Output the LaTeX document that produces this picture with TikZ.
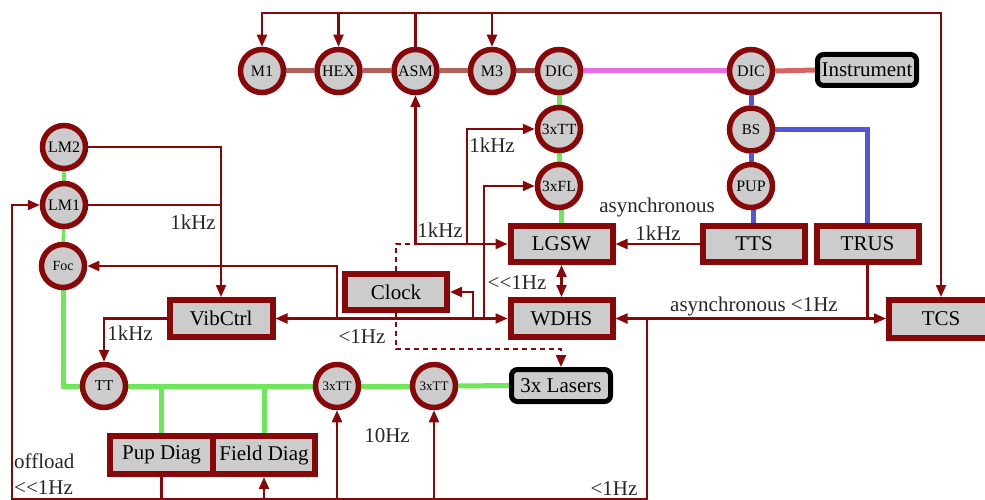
\documentclass[tikz,border=0pt]{standalone}
\usepackage{fontspec}
\setmainfont{Liberation Serif}
\usetikzlibrary{arrows.meta,backgrounds}
\definecolor{dred}{RGB}{135,8,8}
\definecolor{boxgray}{RGB}{204,204,204}
\definecolor{lgreen}{RGB}{110,232,90}
\definecolor{lmag}{RGB}{232,110,232}
\definecolor{lblue}{RGB}{85,85,220}
\definecolor{lbrown}{RGB}{178,98,92}
\definecolor{lbrownd}{RGB}{160,80,72}
\definecolor{lred}{RGB}{215,100,100}
\tikzset{
  circ/.style={circle, draw=dred, fill=boxgray, line width=5.5pt, minimum size=43pt, inner sep=0pt, font=\fontsize{16}{16}\selectfont},
  rbox/.style={rectangle, draw=dred, fill=boxgray, line width=6pt, minimum width=102pt, minimum height=36pt, inner sep=0pt, font=\fontsize{21}{21}\selectfont},
  kbox/.style={rectangle, rounded corners=6pt, draw=black, fill=boxgray, line width=5pt, minimum width=99pt, minimum height=31pt, inner sep=0pt, font=\fontsize{21}{21}\selectfont},
  conn/.style={draw=dred, line width=2.2pt},
  dconn/.style={draw=dred, line width=2.2pt, dash pattern=on 5pt off 4pt},
  arr/.style={-{Triangle[length=12pt,width=10pt]}},
  darr/.style={{Triangle[length=12pt,width=10pt]}-{Triangle[length=12pt,width=10pt]}},
  lbl/.style={font=\fontsize{21}{21}\selectfont, inner sep=0pt, text=black!85},
  lnk/.style={line width=5pt},
}
\begin{document}
\begin{tikzpicture}[x=1pt,y=-1pt]
\useasboundingbox (0,0) rectangle (985,500);
\clip (0,0) rectangle (985,500);
% circles
\node[circ] (M1) at (262,71) {M1};
\node[circ] (HEX) at (338.5,71) {HEX};
\node[circ] (ASM) at (415.5,71) {ASM};
\node[circ] (M3) at (492,71) {M3};
\node[circ] (DIC1) at (559,71) {DIC};
\node[circ] (DIC2) at (751,71) {DIC};
\node[kbox] (Instr) at (867,70) {Instrument};
\node[circ, font=\fontsize{15.5}{15.5}\selectfont] (uTT) at (559,129) {3xTT};
\node[circ, font=\fontsize{15.5}{15.5}\selectfont] (uFL) at (559,186) {3xFL};
\node[circ, font=\fontsize{15}{15}\selectfont] (BS) at (751,129.5) {BS};
\node[circ] (PUP) at (751,186) {PUP};
\node[circ] (LM2) at (64,147) {LM2};
\node[circ] (LM1) at (64,205) {LM1};
\node[circ, font=\fontsize{14}{14}\selectfont] (Foc) at (63,266) {Foc};
\node[circ, font=\fontsize{15}{15}\selectfont] (TT) at (104,386) {TT};
\node[circ, font=\fontsize{13}{13}\selectfont] (lTTa) at (337,386) {3xTT};
\node[circ, font=\fontsize{13}{13}\selectfont] (lTTb) at (434,386) {3xTT};
\node[kbox, minimum height=32pt] (Lasers) at (561,385.5) {3x Lasers};
% boxes
\node[rbox] (LGSW) at (561.5,244) {LGSW};
\node[rbox] (TTS) at (754,244) {TTS};
\node[rbox] (TRUS) at (867.5,244) {TRUS};
\node[rbox, minimum height=37pt] (WDHS) at (561.5,318.5) {WDHS};
\node[rbox, minimum width=104pt, minimum height=38pt] (TCS) at (941,319) {TCS};
\node[rbox] (Clock) at (396,292) {Clock};
\node[rbox, minimum width=103pt, minimum height=37pt] (Vib) at (221,318.5) {VibCtrl};
\node[rbox, minimum width=103pt, minimum height=38pt] (Pup) at (161.5,455) {Pup Diag};
\node[rbox, minimum width=102pt, minimum height=38pt] (Field) at (264,455) {Field Diag};
% coloured links
\begin{scope}[on background layer]
\draw[lnk, lbrown] (M1.east) -- (HEX.west);
\draw[lnk, lbrown] (HEX.east) -- (ASM.west);
\draw[lnk, lbrown] (ASM.east) -- (M3.west);
\draw[lnk, lbrownd] (M3.east) -- (DIC1.west);
\draw[lnk, lmag] (DIC1.east) -- (DIC2.west);
\draw[lnk, lred] (DIC2.east) -- (Instr.west);
\draw[lnk, lgreen] (DIC1.south) -- (uTT.north);
\draw[lnk, lgreen] (uTT.south) -- (uFL.north);
\draw[lnk, lgreen] (561,186) -- (561,244);
\draw[lnk, lblue] (DIC2.south) -- (BS.north);
\draw[lnk, lblue] (BS.south) -- (PUP.north);
\draw[lnk, lblue] (753,186) -- (753,244);
\draw[lnk, lblue] (BS.east) -| (TRUS.north);
\draw[lnk, lgreen, line width=3.5pt] (LM2.south) -- (LM1.north);
\draw[lnk, lgreen, line width=3.5pt] (LM1.south) -- (Foc.north);
\draw[lnk, lgreen] (Foc.south) |- (TT.west);
\draw[lnk, lgreen] (TT.east) -- (lTTa.west);
\draw[lnk, lgreen] (lTTa.east) -- (lTTb.west);
\draw[lnk, lgreen] (lTTb.east) -- (Lasers.west);
\draw[lnk, lgreen] (Pup.north |- TT) -- (Pup.north);
\draw[lnk, lgreen] (Field.north |- TT) -- (Field.north);
\end{scope}
% coordinates
\coordinate (busL) at (262,13);
\coordinate (busR) at (941,13);
\coordinate (cj) at (415.5,244);
\coordinate (tj) at (467,244);
\coordinate (fj) at (484,318.5);
\coordinate (kj) at (473,318.5);
\coordinate (oj) at (337,318.5);
\coordinate (wj) at (647,318.5);
\coordinate (bR) at (647,499.5);
\coordinate (bL) at (12,499.5);
\coordinate (dk) at (396,349);
% dark red connectors
\draw[conn, darr] (M1.north) -- (busL) -- (busR) -- (TCS.north);
\draw[conn, arr] (HEX.north |- busL) -- (HEX.north);
\draw[conn, arr] (M3.north |- busL) -- (M3.north);
\draw[conn] (ASM.north) -- (ASM.north |- busL);
\draw[conn, arr] (cj) -- (ASM.south);
\draw[conn, arr] (cj) -- (LGSW.west);
\draw[conn, arr] (tj) |- (uTT.west);
\draw[dconn] (Clock.north) |- (cj);
\draw[dconn, arr] (Clock.south) -- (dk) -| (Lasers.north);
\draw[conn, darr] (Vib.east) -- (WDHS.west);
\draw[conn, arr] (oj) |- (Foc.east);
\draw[conn, arr] (kj) |- (Clock.east);
\draw[conn, arr] (fj) |- (uFL.west);
\draw[conn, arr] (Vib.west) -| (TT.north);
\draw[conn, arr] (LM2.east) -| (Vib.north);
\draw[conn] (LM1.east) -- (LM1 -| Vib.north);
\draw[conn, darr] (LGSW.south) -- (WDHS.north);
\draw[conn, arr] (TTS.west) -- (LGSW.east);
\draw[conn, darr] (WDHS.east) -- (WDHS.east -| TCS.west);
\draw[conn] (TRUS.south) -- (TRUS.south |- wj);
\draw[conn, arr] (wj) -- (bR) -- (bL) |- (LM1.west);
\draw[conn] (Pup.south) -- (Pup.south |- bL);
\draw[conn, arr] (Field.south |- bL) -- (Field.south);
\draw[conn, arr] (lTTa.south |- bL) -- (lTTa.south);
\draw[conn, arr] (lTTb.south |- bL) -- (lTTb.south);
% labels
\node[lbl] (l1) at (193,222) {1kHz};
\node[lbl] (l2) at (130,333) {1kHz};
\node[lbl] (l3) at (440,230) {1kHz};
\node[lbl] (l4) at (492,145) {1kHz};
\node[lbl] (l5) at (657,207) {asynchronous};
\node[lbl] (l6) at (658,233) {1kHz};
\node[lbl] (l7) at (517,283) {<{}<1Hz};
\node[lbl] (l8) at (362,337) {<1Hz};
\node[lbl] (l9) at (754,306) {asynchronous <1Hz};
\node[lbl] (l10) at (387,436) {10Hz};
\node[lbl, anchor=west] (l11) at (14,461) {offload};
\node[lbl, anchor=west] (l12) at (14,488) {<{}<1Hz};
\node[lbl] (l13) at (614,489) {<1Hz};
\end{tikzpicture}
\end{document}
